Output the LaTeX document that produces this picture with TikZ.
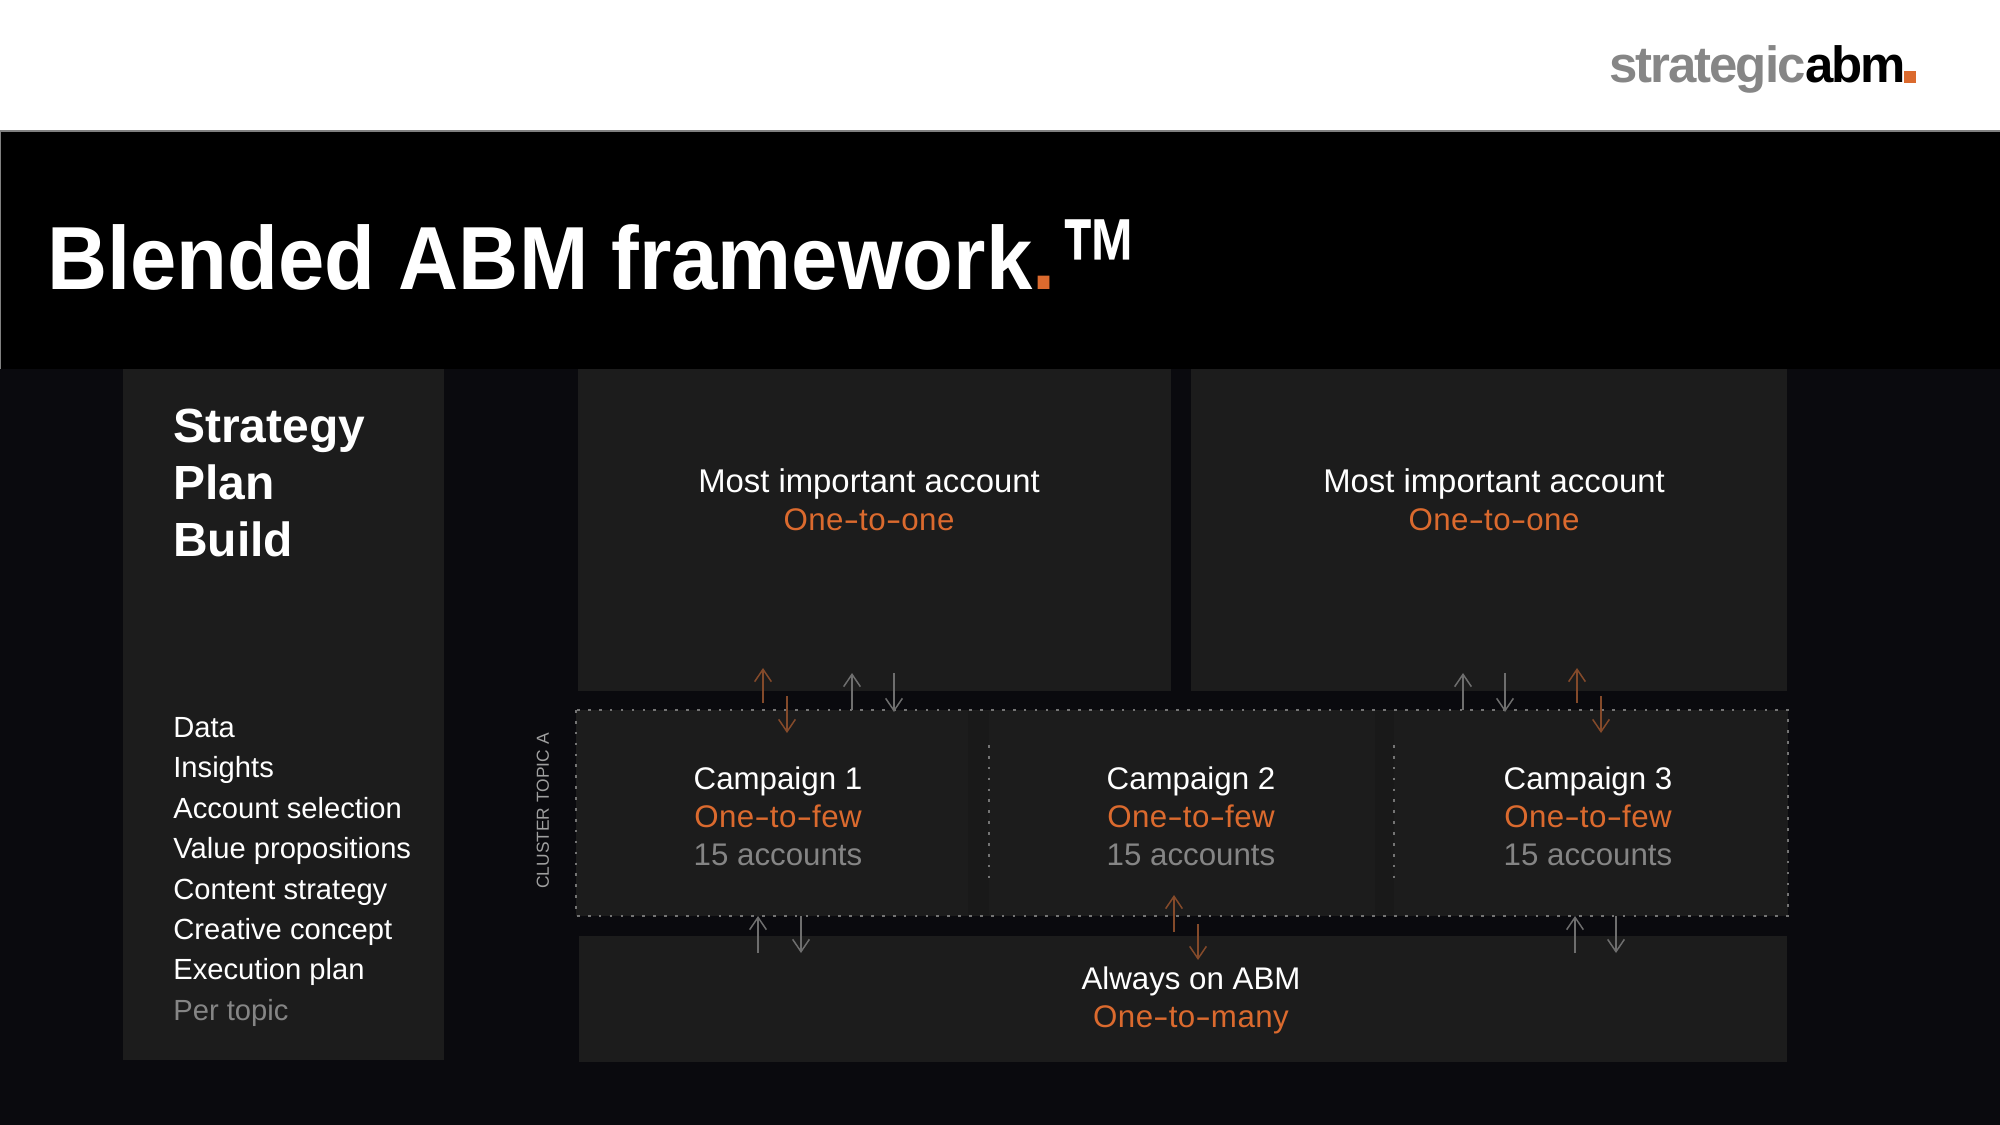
\documentclass[tikz,border=0pt]{standalone}
\usepackage{fontspec}
\setmainfont{Liberation Sans}
\usetikzlibrary{arrows, arrows.meta}

\definecolor{abmorange}{HTML}{DB6A2E}
\definecolor{arroworange}{HTML}{844A2A}
\definecolor{arrowgray}{HTML}{6E6E6E}
\definecolor{panelgray}{HTML}{1C1C1C}
\definecolor{stripgray}{HTML}{191919}
\definecolor{pagedark}{HTML}{0A0A0E}
\definecolor{dimtext}{HTML}{858585}
\definecolor{dotgray}{HTML}{747474}

\tikzset{
  panelbox/.style={fill=panelgray,draw=none,anchor=north west,inner sep=0pt},
  labeltext/.style={text=white,align=center,font=\fontsize{17.8}{21.6}\selectfont,inner sep=0pt},
  listtext/.style={text=white,align=left,anchor=north west,inner sep=0pt},
  dotline/.style={draw=dotgray,line width=0.9pt,dash pattern=on 1.5pt off 4.7pt},
  greyarrow/.style={->,draw=arrowgray,line width=0.85pt},
  orangearrow/.style={->,draw=arroworange,line width=0.85pt},
  >={Straight Barb[length=7pt,width=9.5pt]},
}

\newcommand{\oneto}[1]{\textcolor{abmorange}{\addfontfeatures{LetterSpace=1.5}#1}}
\newcommand{\lh}{\scalebox{1.5}[1]{-}} %long hyphen

\begin{document}
\begin{tikzpicture}[x=0.02cm,y=-0.02cm]
\useasboundingbox (0,0) rectangle (2000,1125);

\fill[white] (0,0) rectangle (2000,130); %header
\fill[pagedark] (0,369) rectangle (2000,1125);
\fill[black] (0,131) rectangle (2000,369); %title band
\draw[gray,line width=1pt] (0,131) -- (2000,131);
\draw[gray,line width=0.8pt] (0,131) -- (0,369);

% logo
\node[anchor=base west,inner sep=0pt,font=\bfseries\fontsize{29}{29}\selectfont] (logo) at (1609,83)
  {\addfontfeatures{LetterSpace=-4}\textcolor{gray!95}{strategic}\textcolor{black}{abm}};
\fill[abmorange] (1904,71) rectangle (1916,83);

% title
\node[anchor=base west,inner sep=0pt,text=white,font=\bfseries\fontsize{51}{51}\selectfont] (title) at (47,289)
  {\scalebox{0.929}[1]{Blended ABM framework\textcolor{abmorange}{.}}};
\node[anchor=base west,inner sep=0pt,text=white,font=\bfseries\fontsize{51}{51}\selectfont] (trademark) at (1060,308)
  {\scalebox{0.88}[1.44]{™}};

% left panel
\node[panelbox,minimum width=321*0.02cm,minimum height=691*0.02cm] (leftpanel) at (123,369) {};
\node[listtext,font=\bfseries\fontsize{27.3}{32.3}\selectfont] (headings) at (173,409) {Strategy\\Plan\\Build};
\node[listtext,font=\fontsize{16.6}{23}\selectfont] (items) at (173,717)
  {Data\\Insights\\Account selection\\Value propositions\\Content strategy\\Creative concept\\Execution plan\\\textcolor{dimtext}{Per topic}};

% top panels
\node[panelbox,minimum width=593*0.02cm,minimum height=322*0.02cm] (accountA) at (578,369) {};
\node[panelbox,minimum width=596*0.02cm,minimum height=322*0.02cm] (accountB) at (1191,369) {};
\node[labeltext] (accountAtext) at (869,500) {{\fontsize{18.7}{21.6}\selectfont Most important account}\\\oneto{One\lh to\lh one}};
\node[labeltext] (accountBtext) at (1494,500) {{\fontsize{18.7}{21.6}\selectfont Most important account}\\\oneto{One\lh to\lh one}};

% cluster
\fill[panelgray] (576,710) rectangle (1788,916);
\fill[stripgray] (968,711) rectangle (989,915);
\fill[stripgray] (1375,711) rectangle (1394,915);
\draw[dotline] (576,710) rectangle (1788,916);
\draw[dotline] (989,745) -- (989,880);
\draw[dotline] (1394,745) -- (1394,880);
\node[rotate=90,text=gray!75!white,inner sep=0pt,font=\fontsize{9.9}{11}\selectfont] (clustertext) at (543,811) {CLUSTER TOPIC A};

\node[labeltext] (campaign1) at (778,816) {Campaign 1\\\oneto{One\lh to\lh few}\\\textcolor{dimtext}{15 accounts}};
\node[labeltext] (campaign2) at (1191,816) {Campaign 2\\\oneto{One\lh to\lh few}\\\textcolor{dimtext}{15 accounts}};
\node[labeltext] (campaign3) at (1588,816) {Campaign 3\\\oneto{One\lh to\lh few}\\\textcolor{dimtext}{15 accounts}};

% bottom panel
\node[panelbox,minimum width=1208*0.02cm,minimum height=126*0.02cm] (alwayson) at (579,936) {};
\node[labeltext] (alwaysontext) at (1191,1000) {Always on ABM\\\oneto{One\lh to\lh many}};

% arrows
\foreach \name/\x/\ya/\yb/\kind in {
  oa/763/703/668/orangearrow, ob/787/696/733/orangearrow,
  ga/852/710/673/greyarrow, gb/894/673/712/greyarrow,
  gc/1463/710/673/greyarrow, gd/1505/673/712/greyarrow,
  oc/1577/703/668/orangearrow, od/1601/696/733/orangearrow,
  ge/758/953/916/greyarrow, gf/801/916/953/greyarrow,
  gg/1575/953/916/greyarrow, gh/1616/916/953/greyarrow,
  oe/1174/932/895/orangearrow, of/1198/924/960/orangearrow}{
  \coordinate (\name s) at (\x,\ya);
  \coordinate (\name e) at (\x,\yb);
  \draw[\kind] (\name s) -- (\name e);
}

\end{tikzpicture}
\end{document}
